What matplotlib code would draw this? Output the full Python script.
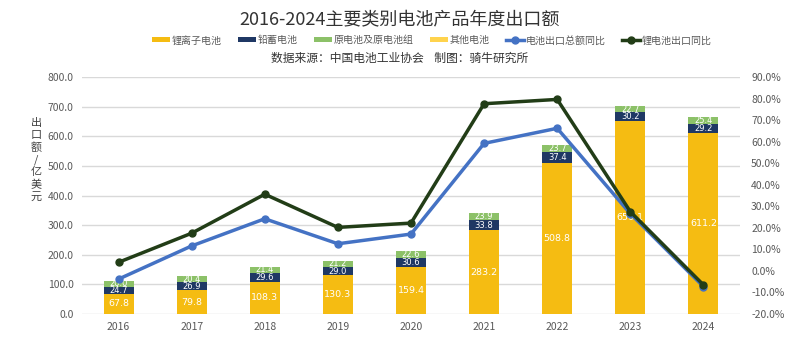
import numpy as np
import matplotlib
matplotlib.use("Agg")
from matplotlib import pyplot as plt
from matplotlib.ticker import FuncFormatter, MultipleLocator

plt.rcParams['font.family'] = ['Noto Sans CJK SC', 'DejaVu Sans']

years = ['2016', '2017', '2018', '2019', '2020', '2021', '2022', '2023', '2024']
lithium = [67.8, 79.8, 108.3, 130.3, 159.4, 283.2, 508.8, 650.1, 611.2]
lead_acid = [24.7, 26.9, 29.6, 29.0, 30.6, 33.8, 37.4, 30.2, 29.2]
primary = [20.0, 20.4, 21.4, 21.2, 22.6, 23.9, 23.7, 22.7, 25.4]
other = [0, 0, 0, 0, 0, 0, 0, 0, 0]
total_yoy = [-3.8, 11.6, 24.2, 12.6, 17.1, 59.2, 66.2, 26.6, -7.3]
lithium_yoy = [4.0, 17.5, 35.6, 20.2, 22.2, 77.6, 79.6, 27.5, -6.5]

c_li = '#F5BC12'
c_lead = '#1F3864'
c_prim = '#8CC168'
c_other = '#FFD34D'
c_total = '#4472C4'
c_liline = '#223D17'

fig = plt.figure(figsize=(8, 3.51), dpi=100)
ax = fig.add_axes([0.1025, 0.1054, 0.8225, 0.6752])
x = np.arange(len(years))
w = 0.41

lead_bottom = np.array(lithium)
prim_bottom = lead_bottom + np.array(lead_acid)
other_bottom = prim_bottom + np.array(primary)

b1 = ax.bar(x, lithium, w, color=c_li, label='锂离子电池', zorder=2)
b2 = ax.bar(x, lead_acid, w, bottom=lead_bottom, color=c_lead, label='铅蓄电池', zorder=2)
b3 = ax.bar(x, primary, w, bottom=prim_bottom, color=c_prim, label='原电池及原电池组', zorder=2)
b4 = ax.bar(x, other, w, bottom=other_bottom, color=c_other, label='其他电池', zorder=2)

# value labels in the middle of each segment
for vals, bottoms, fs in [(lithium, np.zeros(len(x)), 6.8), (lead_acid, lead_bottom, 6.0), (primary, prim_bottom, 6.0)]:
    for xi, v, b in zip(x, vals, bottoms):
        ax.text(xi, b + v / 2, f'{v:.1f}', ha='center', va='center', color='white',
                fontsize=fs, family='DejaVu Sans', zorder=3)

ax.set_xlim(-0.5, len(years) - 0.5)
ax.set_ylim(0, 800)
ax.yaxis.set_major_locator(MultipleLocator(100))
ax.yaxis.set_major_formatter(FuncFormatter(lambda v, p: f'{v:.1f}'))
ax.set_xticks(x)
ax.set_xticklabels(years)
ax.grid(axis='y', color='#D9D9D9', linewidth=1, zorder=0)
ax.set_axisbelow(True)
for s in ax.spines.values():
    s.set_visible(False)
ax.tick_params(length=0, labelsize=7.5, colors='#595959', pad=6)

ax2 = ax.twinx()
ax2.set_ylim(-20, 90)
ax2.yaxis.set_major_locator(MultipleLocator(10))
ax2.yaxis.set_major_formatter(FuncFormatter(lambda v, p: f'{v:.1f}%'))
for s in ax2.spines.values():
    s.set_visible(False)
ax2.tick_params(length=0, labelsize=7.5, colors='#595959', pad=8)
l1, = ax2.plot(x, total_yoy, color=c_total, lw=2.5, marker='o', ms=5, label='电池出口总额同比', zorder=4)
l2, = ax2.plot(x, lithium_yoy, color=c_liline, lw=2.5, marker='o', ms=5, label='锂电池出口同比', zorder=5)

fig.text(0.5, 0.945, '2016-2024主要类别电池产品年度出口额', ha='center', va='center',
         fontsize=13, color='#333333')
fig.text(0.5, 0.835, '数据来源：中国电池工业协会    制图：骑牛研究所', ha='center', va='center',
         fontsize=8.5, color='#333333')
fig.text(0.045, 0.545, '出\n口\n额\n/\n亿\n美\n元', ha='center', va='center',
         fontsize=8, color='#404040', linespacing=1.25)

handles = [b1, b2, b3, b4, l1, l2]
fig.legend(handles=handles, labels=[h.get_label() for h in handles], loc='center',
           bbox_to_anchor=(0.54, 0.885), ncol=6, frameon=False, fontsize=7.2,
           handlelength=1.8, handleheight=0.45, columnspacing=1.6, handletextpad=0.2,
           labelcolor='#595959')

fig.savefig('out.png', dpi=100)
